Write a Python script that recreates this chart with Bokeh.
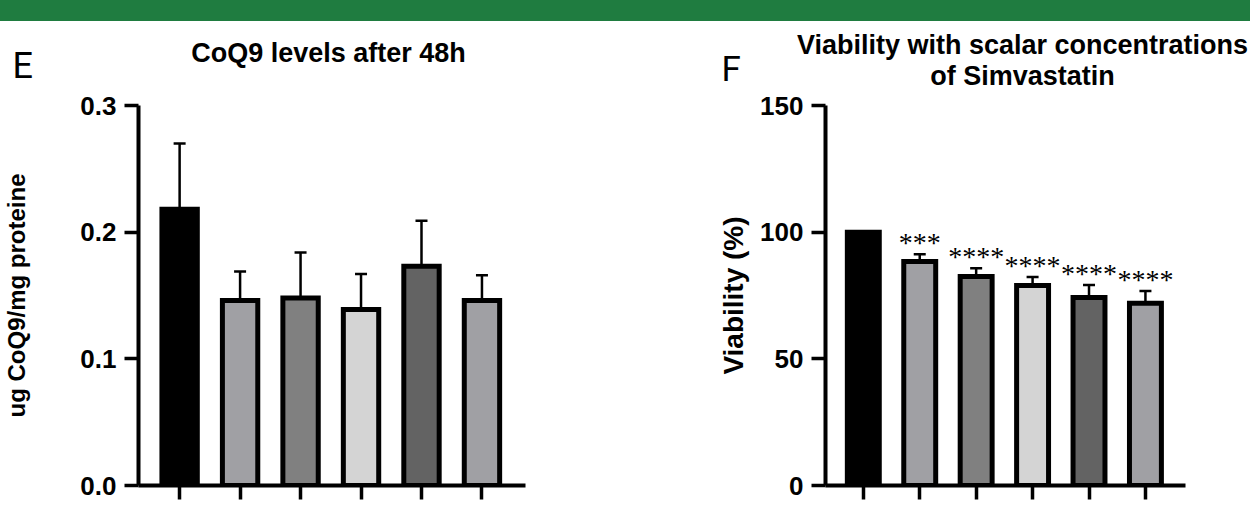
from bokeh.plotting import figure
from bokeh.models import (ColumnDataSource, Range1d, FixedTicker, Whisker, TeeHead,
                          LabelSet, Label, Div)
from bokeh.layouts import column, row
from bokeh.embed import file_html
from bokeh.resources import INLINE

FONT = "Liberation Sans"
LETTER_FONT = "Roboto"

# ---------------- Panel E data ----------------
e_categories = ["Control", "1 µM", "5 µM", "10 µM", "25 µM", "50 µM"]
e_means = [0.218, 0.146, 0.148, 0.139, 0.173, 0.146]
e_sd = [0.052, 0.023, 0.036, 0.028, 0.036, 0.020]
e_colors = ["#000000", "#a0a0a4", "#808080", "#d4d4d4", "#636363", "#a0a0a4"]
e_yticks = [0.0, 0.1, 0.2, 0.3]
e_ytick_labels = ["0.0", "0.1", "0.2", "0.3"]
e_title = "CoQ9 levels after 48h"

# ---------------- Panel F data ----------------
f_categories = ["Control", "1 µM", "5 µM", "10 µM", "25 µM", "50 µM"]
f_means = [100.0, 88.4, 82.5, 78.9, 74.2, 71.9]
f_sd = [0.0, 2.9, 3.3, 3.4, 4.9, 4.9]
f_stars = ["", "***", "****", "****", "****", "****"]
f_colors = ["#000000", "#a0a0a4", "#808080", "#d4d4d4", "#636363", "#a0a0a4"]
f_yticks = [0, 50, 100, 150]
f_ytick_labels = ["0", "50", "100", "150"]
f_title = ["Viability with scalar concentrations", "of Simvastatin"]

HEADER_H = 70


def header(width, items):
    """A blank strip (pixel coordinates, y down) holding panel letter and title."""
    h = figure(width=width, height=HEADER_H,
               x_range=Range1d(0, width), y_range=Range1d(HEADER_H, 0),
               x_axis_location=None, y_axis_location=None,
               output_backend="svg", toolbar_location=None, min_border=0)
    h.outline_line_color = None
    h.xgrid.visible = False
    h.ygrid.visible = False
    h.background_fill_color = "white"
    h.border_fill_color = "white"
    for text, x, y, font, size, style, align in items:
        h.add_layout(Label(x=x, y=y, text=text, text_font=font,
                           text_font_size=size, text_font_style=style,
                           text_align=align, text_baseline="middle",
                           text_color="black"))
    return h


def build_panel(categories, means, sds, colors, yticks, ytick_labels, y_end,
                ylabel, width, height, borders, bar_width, xpad,
                ylabel_size, label_standoff, stars=None):
    xs = list(range(len(categories)))
    upper = [m + s for m, s in zip(means, sds)]
    src = ColumnDataSource(dict(x=xs, mean=means, upper=upper, color=colors,
                                cat=categories,
                                stars=stars if stars else [""] * len(xs)))
    left, right, top, bottom = borders
    p = figure(width=width, height=height,
               x_range=Range1d(-xpad[0], len(xs) - 1 + xpad[1]),
               y_range=Range1d(0, y_end),
               output_backend="svg", toolbar_location=None,
               min_border_left=left, min_border_right=right,
               min_border_top=top, min_border_bottom=bottom)
    p.background_fill_color = "white"
    p.border_fill_color = "white"
    p.outline_line_color = None
    p.xgrid.visible = False
    p.ygrid.visible = False
    p.title.visible = False

    # bars
    p.vbar(x="x", top="mean", bottom=0, width=bar_width, source=src,
           fill_color="color", line_color="black", line_width=5,
           line_join="miter")

    # error bars (upper only)
    w = Whisker(base="x", lower="mean", upper="upper", source=src,
                line_color="black", line_width=2.5,
                upper_head=TeeHead(size=12, line_width=2.5, line_color="black"),
                lower_head=None, level="glyph")
    p.add_layout(w)

    if stars:
        p.add_layout(LabelSet(x="x", y="upper", text="stars", source=src,
                              text_align="center", text_baseline="alphabetic",
                              text_font=FONT, text_font_size="28px",
                              text_color="black", y_offset=2))

    # y axis
    ya = p.yaxis[0]
    ya.ticker = FixedTicker(ticks=yticks)
    ya.major_label_overrides = {t: l for t, l in zip(yticks, ytick_labels)}
    ya.axis_line_width = 4
    ya.axis_line_color = "black"
    ya.major_tick_line_width = 3.5
    ya.major_tick_line_color = "black"
    ya.major_tick_out = 14
    ya.major_tick_in = 0
    ya.minor_tick_line_color = None
    ya.major_label_text_font = FONT
    ya.major_label_text_font_style = "bold"
    ya.major_label_text_font_size = "26px"
    ya.major_label_text_color = "black"
    ya.major_label_standoff = 8
    ya.axis_label = ylabel
    ya.axis_label_text_font = FONT
    ya.axis_label_text_font_style = "bold"
    ya.axis_label_text_font_size = ylabel_size
    ya.axis_label_text_color = "black"
    ya.axis_label_standoff = label_standoff

    # x axis (category ticks; their labels fall below the visible picture)
    xa = p.xaxis[0]
    xa.ticker = FixedTicker(ticks=xs)
    xa.major_label_overrides = {i: "" for i in xs}
    xa.major_label_text_font_size = "4px"
    xa.axis_line_width = 4
    xa.axis_line_color = "black"
    xa.major_tick_line_width = 3.5
    xa.major_tick_line_color = "black"
    xa.major_tick_out = 14
    xa.major_tick_in = 0
    xa.minor_tick_line_color = None
    return p


pE = build_panel(e_categories, e_means, e_sd, e_colors, e_yticks, e_ytick_labels,
                 0.3, "ug CoQ9/mg proteine",
                 width=680, height=432, borders=(132, 155, 14, 34),
                 bar_width=0.585, xpad=(0.68, 0.72), ylabel_size="24px",
                 label_standoff=47)

pF = build_panel(f_categories, f_means, f_sd, f_colors, f_yticks, f_ytick_labels,
                 150, "Viability (%)",
                 width=570, height=432, borders=(145, 65, 12, 38),
                 bar_width=0.566, xpad=(0.67, 0.71), ylabel_size="28px",
                 label_standoff=8, stars=f_stars)

hE = header(680, [
    ("E", 12, 44, LETTER_FONT, "36px", "normal", "left"),
    (e_title, 328, 31, FONT, "27px", "bold", "center"),
])
hF = header(570, [
    ("F", 41, 48, LETTER_FONT, "35px", "normal", "left"),
    (f_title[0], 342, 23, FONT, "27px", "bold", "center"),
    (f_title[1], 342, 54, FONT, "27px", "bold", "center"),
])

banner = Div(text="", width=1250, height=21, margin=0,
             styles={"background-color": "#1f7c40"})

layout = column(banner, row(hE, hF, spacing=0), row(pE, pF, spacing=0),
                spacing=0)

open("out.html", "w").write(file_html(layout, INLINE))
